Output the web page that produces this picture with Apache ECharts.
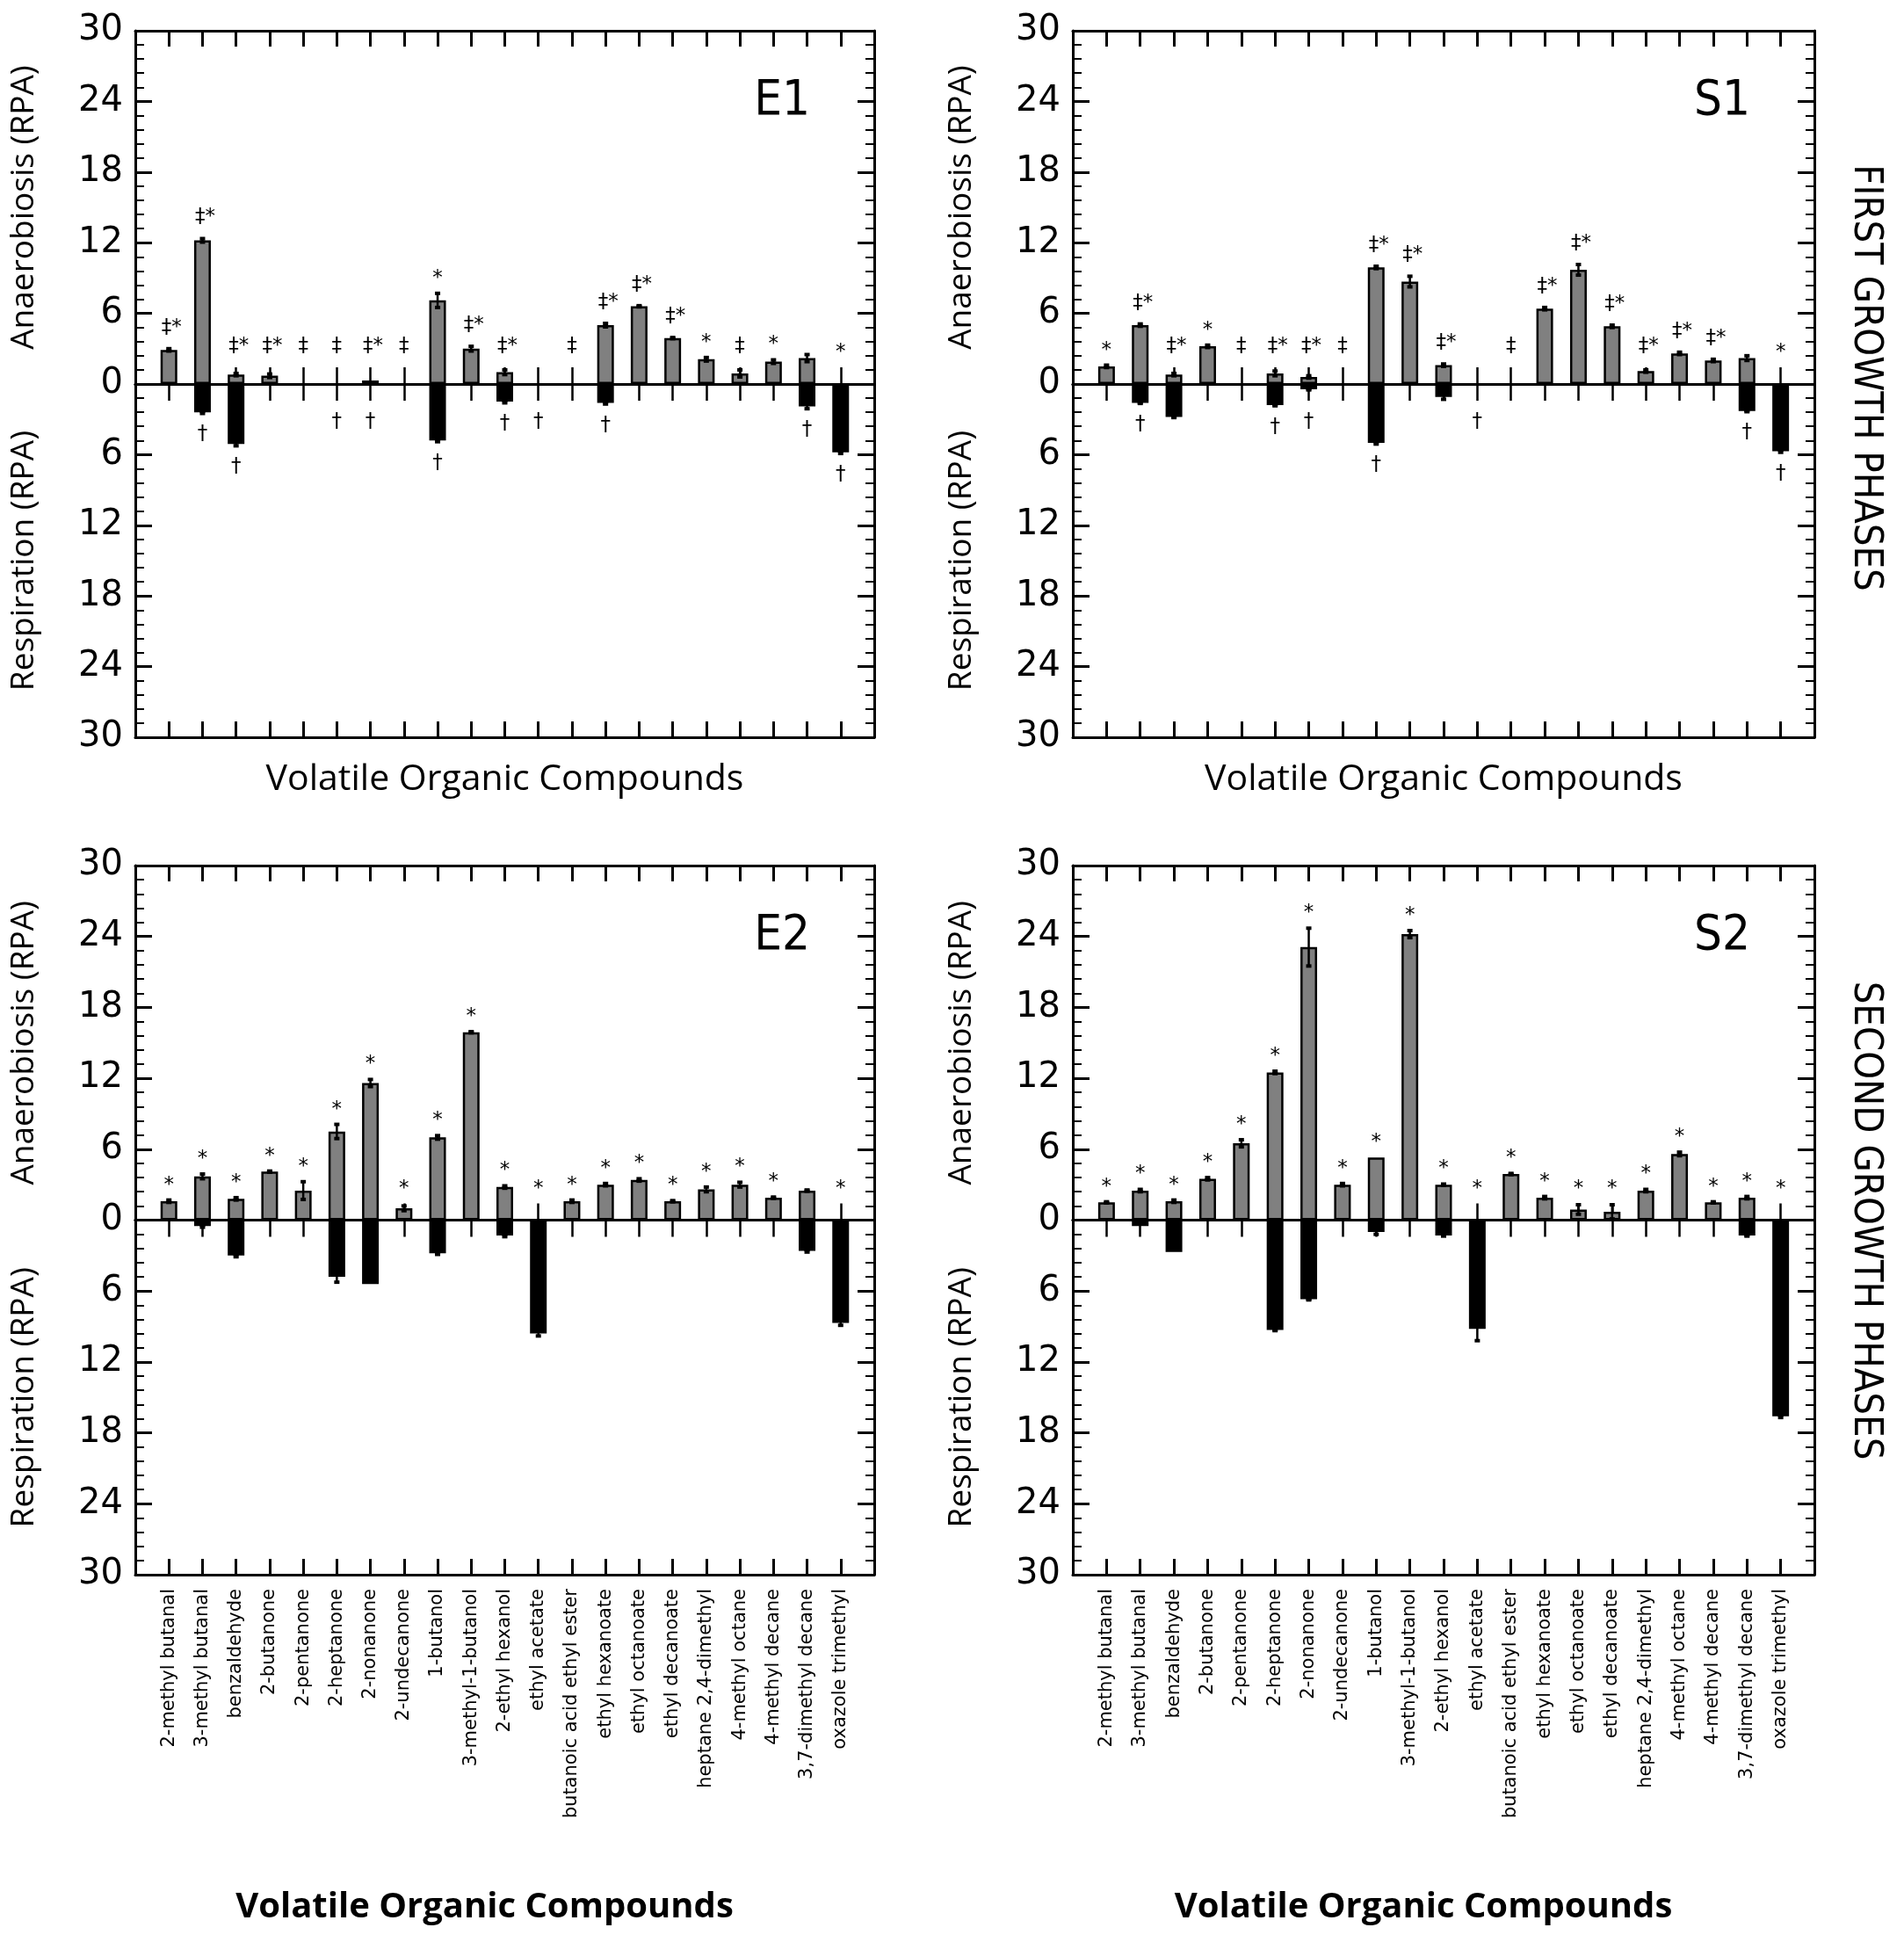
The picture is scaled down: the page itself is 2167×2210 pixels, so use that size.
<!DOCTYPE html>
<html><head><meta charset="utf-8">
<script src="https://cdn.jsdelivr.net/npm/echarts@6/dist/echarts.min.js"></script>
<style>html,body{margin:0;padding:0;background:#fff}#c{width:2167px;height:2210px}</style>
</head><body><div id="c"></div>
<script>
// ---------------- DATA ----------------
const categories = ['2-methyl butanal','3-methyl butanal','benzaldehyde','2-butanone','2-pentanone','2-heptanone','2-nonanone','2-undecanone','1-butanol','3-methyl-1-butanol','2-ethyl hexanol','ethyl acetate','butanoic acid ethyl ester','ethyl hexanoate','ethyl octanoate','ethyl decanoate','heptane 2,4-dimethyl','4-methyl octane','4-methyl decane','3,7-dimethyl decane','oxazole trimethyl'];
const yTickLabels = ['30','24','18','12','6','0','6','12','18','24','30'];

// E1 (first growth phase)
const e1Anaerobiosis    = [2.9,12.2,0.8,0.7,0,0,0.3,0,7.1,3.0,1.0,0,0,5.0,6.6,3.9,2.1,0.9,1.9,2.2,0];
const e1AnaerobiosisErr = [0.1,0.15,0.1,0.15,0,0,0,0,0.6,0.2,0.2,0,0,0.15,0.05,0.05,0.15,0.3,0.15,0.3,0];
const e1Respiration     = [0,2.4,5.1,0,0,0,0,0,4.8,0,1.5,0,0,1.6,0,0,0,0,0,1.9,5.8];
const e1RespirationErr  = [0,0.1,0.15,0,0,0,0,0,0.1,0,0.1,0,0,0.1,0,0,0,0,0,0.2,0.1];
const e1Above = ['‡*','‡*','‡*','‡*','‡','‡','‡*','‡','*','‡*','‡*','','‡','‡*','‡*','‡*','*','‡','*','','*'];
const e1Below = ['','†','†','','','†','†','','†','','†','†','','†','','','','','','†','†'];

// S1 (first growth phase)
const s1Anaerobiosis    = [1.5,5.0,0.8,3.2,0,0.9,0.6,0,9.9,8.7,1.6,0,0,6.4,9.7,4.9,1.1,2.6,2.0,2.2,0];
const s1AnaerobiosisErr = [0.1,0.1,0.1,0.1,0,0.2,0.1,0,0.1,0.45,0.1,0,0,0.1,0.45,0.1,0.1,0.1,0.1,0.2,0];
const s1Respiration     = [0,1.6,2.8,0,0,1.8,0.45,0,5.0,0,1.1,0,0,0,0,0,0,0,0,2.3,5.7];
const s1RespirationErr  = [0,0.05,0.05,0,0,0.05,0.05,0,0.1,0,0.2,0,0,0,0,0,0,0,0,0.05,0.1];
const s1Above = ['*','‡*','‡*','*','‡','‡*','‡*','‡','‡*','‡*','‡*','','‡','‡*','‡*','‡*','‡*','‡*','‡*','','*'];
const s1Below = ['','†','','','','†','†','','†','','','†','','','','','','','','†','†'];

// E2 (second growth phase)
const e2Anaerobiosis    = [1.6,3.7,1.8,4.1,2.5,7.5,11.6,1.0,7.0,15.9,2.8,0,1.6,3.0,3.4,1.6,2.6,3.0,1.9,2.5,0];
const e2AnaerobiosisErr = [0.1,0.2,0.1,0.05,0.75,0.6,0.3,0.2,0.15,0.05,0.1,0,0.1,0.1,0.1,0.05,0.2,0.2,0.05,0.05,0];
const e2Respiration     = [0,0.5,3.0,0,0,4.8,5.4,0,2.8,0,1.3,9.6,0,0,0,0,0,0,0,2.6,8.7];
const e2RespirationErr  = [0,0.1,0.1,0,0,0.45,0,0,0.1,0,0.1,0.2,0,0,0,0,0,0,0,0.1,0.2];
const e2Above = ['*','*','*','*','*','*','*','*','*','*','*','*','*','*','*','*','*','*','*','','*'];
const e2Below = ['','','','','','','','','','','','','','','','','','','','',''];

// S2 (second growth phase)
const s2Anaerobiosis    = [1.5,2.5,1.6,3.5,6.5,12.5,23.1,3.0,5.3,24.2,3.0,0,3.9,1.9,0.9,0.7,2.5,5.6,1.5,1.9,0];
const s2AnaerobiosisErr = [0.05,0.1,0.1,0.1,0.3,0.1,1.6,0.1,0,0.3,0.05,0,0.05,0.1,0.4,0.6,0.1,0.15,0.05,0.1,0];
const s2Respiration     = [0,0.5,2.7,0,0,9.3,6.7,0,1.0,0,1.3,9.2,0,0,0,0,0,0,0,1.3,16.6];
const s2RespirationErr  = [0,0,0,0,0,0.05,0.05,0,0.2,0,0.05,1.0,0,0,0,0,0,0,0,0.05,0.1];
const s2Above = ['*','*','*','*','*','*','*','*','*','*','*','*','*','*','*','*','*','*','*','*','*'];
const s2Below = ['','','','','','','','','','','','','','','','','','','','',''];

const panelNames = ['E1','S1','E2','S2'];
const phaseTitles = ['FIRST GROWTH PHASES','SECOND GROWTH PHASES'];
const yNameUp = 'Anaerobiosis (RPA)';
const yNameDown = 'Respiration (RPA)';
const xTitle = 'Volatile Organic Compounds';

// ---------------- LAYOUT ----------------
const panels = [
  {name:panelNames[0], pos:e1Anaerobiosis, posErr:e1AnaerobiosisErr, neg:e1Respiration, negErr:e1RespirationErr, above:e1Above, below:e1Below, g:{left:154,top:35,width:841,height:804}, labels:false},
  {name:panelNames[1], pos:s1Anaerobiosis, posErr:s1AnaerobiosisErr, neg:s1Respiration, negErr:s1RespirationErr, above:s1Above, below:s1Below, g:{left:1221,top:35,width:844,height:804}, labels:false},
  {name:panelNames[2], pos:e2Anaerobiosis, posErr:e2AnaerobiosisErr, neg:e2Respiration, negErr:e2RespirationErr, above:e2Above, below:e2Below, g:{left:154,top:985,width:841,height:807}, labels:true},
  {name:panelNames[3], pos:s2Anaerobiosis, posErr:s2AnaerobiosisErr, neg:s2Respiration, negErr:s2RespirationErr, above:s2Above, below:s2Below, g:{left:1221,top:985,width:844,height:807}, labels:true}
];
const SLOTS = categories.length + 1;
const TICK_REACH = 1.4; // value height of the zero-line tick marks
const BLACK = '#000';
const lineW = 3;

const option = {animation:false, backgroundColor:'#fff', grid:[], xAxis:[], yAxis:[], series:[], graphic:[]};

panels.forEach((P, k) => {
  option.grid.push(Object.assign({containLabel:false}, P.g));
  const xb = option.xAxis.length, yb = option.yAxis.length;
  const xCommon = {type:'value', gridIndex:k, min:0, max:SLOTS, interval:1, splitLine:{show:false}, minorTick:{show:false}};
  option.xAxis.push(Object.assign({}, xCommon, {
    position:'bottom',
    axisLine:{show:true, onZero:false, lineStyle:{color:BLACK, width:lineW}},
    axisTick:{show:true, inside:true, length:18, lineStyle:{color:BLACK, width:lineW}},
    axisLabel: P.labels ? {show:true, rotate:90, margin:16, color:BLACK, fontSize:21, fontFamily:'DejaVu Sans',
      formatter:(v)=> categories[v-1] || '', showMinLabel:true, showMaxLabel:true} : {show:false}
  }));
  option.xAxis.push(Object.assign({}, xCommon, {
    position:'top',
    axisLine:{show:true, onZero:false, lineStyle:{color:BLACK, width:lineW}},
    axisTick:{show:true, inside:true, length:18, lineStyle:{color:BLACK, width:lineW}},
    axisLabel:{show:false}
  }));
  option.xAxis.push(Object.assign({}, xCommon, {
    position:'bottom',
    axisLine:{show:true, onZero:true, lineStyle:{color:BLACK, width:lineW}},
    axisTick:{show:true, inside:false, length:19, lineStyle:{color:BLACK, width:2.5}},
    axisLabel:{show:false}
  }));
  option.xAxis.push(Object.assign({}, xCommon, {
    position:'top',
    axisLine:{show:true, onZero:true, lineStyle:{color:BLACK, width:lineW}},
    axisTick:{show:true, inside:false, length:19, lineStyle:{color:BLACK, width:2.5}},
    axisLabel:{show:false}
  }));
  const yCommon = {type:'value', gridIndex:k, min:-30, max:30, interval:6, splitLine:{show:false}, minorSplitLine:{show:false},
    axisLine:{show:true, onZero:false, lineStyle:{color:BLACK, width:lineW}},
    axisTick:{show:true, inside:true, length:19, lineStyle:{color:BLACK, width:lineW}},
    minorTick:{show:true, splitNumber:5, length:10, lineStyle:{color:BLACK, width:2}}};
  option.yAxis.push(Object.assign({}, yCommon, {position:'left',
    axisLabel:{show:true, margin:14, color:BLACK, fontSize:40, fontFamily:'DejaVu Sans', showMinLabel:true, showMaxLabel:true,
      formatter:(v)=> yTickLabels[Math.round((v+30)/6)]}}));
  option.yAxis.push(Object.assign({}, yCommon, {position:'right', axisLabel:{show:false}}));

  const posData = [], negData = [], errData = [], markData = [], markText = [];
  P.pos.forEach((v,i)=>{ if (v>0) posData.push([i+1, v]); });
  P.neg.forEach((v,i)=>{ if (v>0) negData.push([i+1, -v]); });
  P.pos.forEach((v,i)=>{ if (v>0 && P.posErr[i]>0) errData.push([i+1, v-P.posErr[i], v+P.posErr[i]]); });
  P.neg.forEach((v,i)=>{ if (v>0 && P.negErr[i]>0) errData.push([i+1, -v-P.negErr[i], -v+P.negErr[i]]); });
  P.above.forEach((s,i)=>{ if (s) { markData.push([i+1, Math.max(P.pos[i]+P.posErr[i], TICK_REACH), 1]); markText.push(s); } });
  P.below.forEach((s,i)=>{ if (s) { markData.push([i+1, -Math.max(P.neg[i]+P.negErr[i], TICK_REACH), -1]); markText.push(s); } });

  option.series.push({type:'bar', name:'Anaerobiosis', xAxisIndex:xb, yAxisIndex:yb, data:posData, barWidth:19, barGap:'-100%',
    itemStyle:{color:'#808080', borderColor:BLACK, borderWidth:2.5}, z:3});
  option.series.push({type:'bar', name:'Respiration', xAxisIndex:xb, yAxisIndex:yb, data:negData, barWidth:19, barGap:'-100%',
    itemStyle:{color:BLACK, borderColor:BLACK, borderWidth:2.5}, z:3});
  option.series.push({type:'custom', xAxisIndex:xb, yAxisIndex:yb, data:errData, z:4,
    renderItem:(params, api)=>{
      const x = api.value(0);
      const a = api.coord([x, api.value(1)]), b = api.coord([x, api.value(2)]);
      const c = 3;
      const st = {stroke:BLACK, lineWidth:2.5};
      return {type:'group', children:[
        {type:'line', shape:{x1:a[0], y1:a[1], x2:b[0], y2:b[1]}, style:st},
        {type:'line', shape:{x1:a[0]-c, y1:a[1], x2:a[0]+c, y2:a[1]}, style:{stroke:BLACK, lineWidth:4}},
        {type:'line', shape:{x1:b[0]-c, y1:b[1], x2:b[0]+c, y2:b[1]}, style:{stroke:BLACK, lineWidth:4}}
      ]};
    }});
  option.series.push({type:'custom', xAxisIndex:xb, yAxisIndex:yb, data:markData, z:5,
    renderItem:(params, api)=>{
      const p = api.coord([api.value(0), api.value(1)]);
      const dir = api.value(2);
      const s = markText[params.dataIndex];
      const off = (s === '*') ? 17 : 24;
      return {type:'text', x:p[0] + (s.length>1 ? 3 : 0), y:p[1] - dir*off,
        style:{text:s, fill:BLACK, font:'23px "DejaVu Sans"', align:'center', verticalAlign:'middle'}};
    }});

  // texts
  const g = P.g;
  option.graphic.push({type:'text', x:g.left+g.width-73, y:g.top+80,
    style:{text:P.name, fill:BLACK, font:'56px "Liberation Sans Narrow", "DejaVu Sans Condensed", sans-serif', align:'right', verticalAlign:'middle'}});
  option.graphic.push({type:'text', x:g.left-127, y:g.top + g.height/4, rotation:Math.PI/2,
    style:{text:yNameUp, fill:BLACK, font:'37px "Open Sans", sans-serif', align:'center', verticalAlign:'middle'}});
  option.graphic.push({type:'text', x:g.left-127, y:g.top + 3*g.height/4, rotation:Math.PI/2,
    style:{text:yNameDown, fill:BLACK, font:'37px "Open Sans", sans-serif', align:'center', verticalAlign:'middle'}});
  if (P.labels) {
    option.graphic.push({type:'text', x:g.left+g.width/2-23, y:2171,
      style:{text:xTitle, fill:BLACK, font:'bold 40px "Open Sans", sans-serif', align:'center', verticalAlign:'middle'}});
  } else {
    option.graphic.push({type:'text', x:g.left+g.width/2, y:g.top+g.height+48,
      style:{text:xTitle, fill:BLACK, font:'41px "Open Sans", sans-serif', align:'center', verticalAlign:'middle'}});
  }
});
option.graphic.push({type:'text', x:2123, y:430, rotation:-Math.PI/2,
  style:{text:phaseTitles[0], fill:BLACK, font:'45px "Liberation Sans Narrow", "DejaVu Sans Condensed", sans-serif', align:'center', verticalAlign:'middle'}});
option.graphic.push({type:'text', x:2123, y:1389, rotation:-Math.PI/2,
  style:{text:phaseTitles[1], fill:BLACK, font:'45px "Liberation Sans Narrow", "DejaVu Sans Condensed", sans-serif', align:'center', verticalAlign:'middle'}});

const chart = echarts.init(document.getElementById('c'), null, {renderer:'canvas'});
chart.setOption(option);
</script></body></html>
